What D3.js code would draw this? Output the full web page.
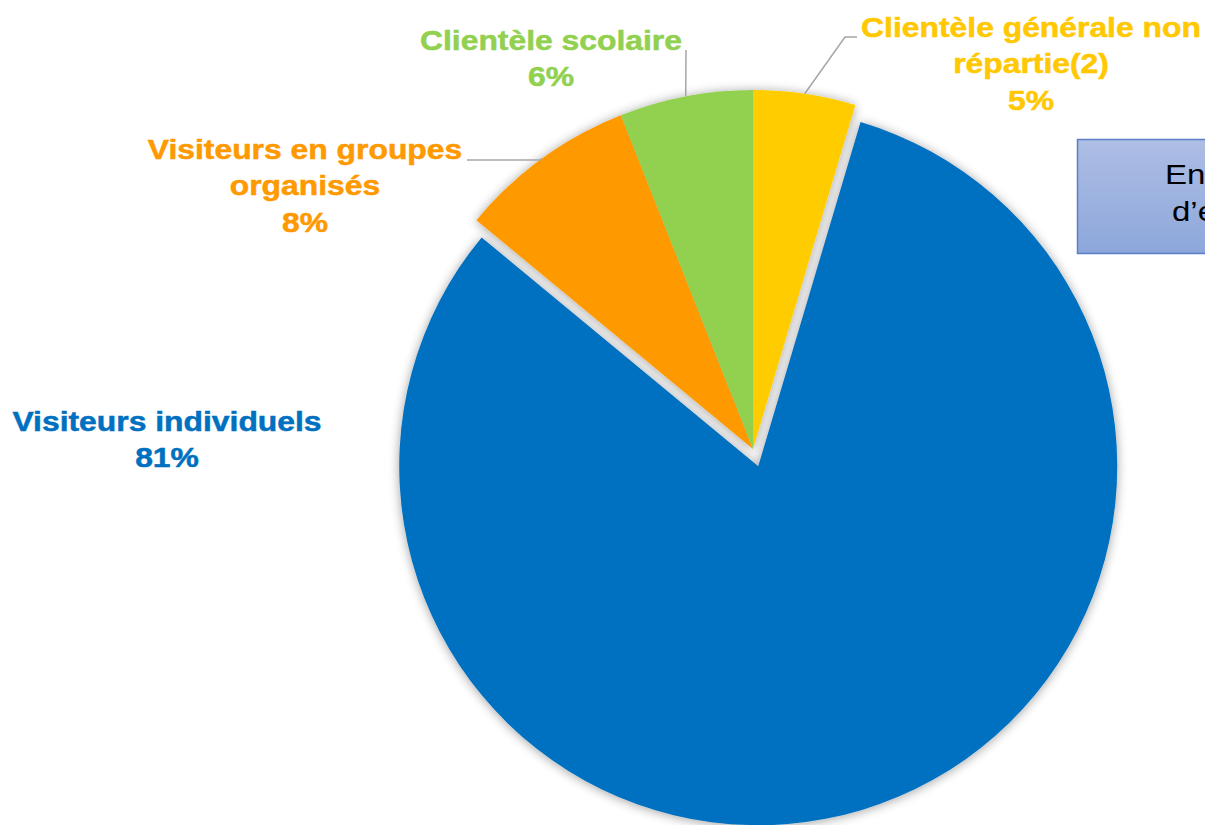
<!DOCTYPE html>
<html>
<head>
<meta charset="utf-8">
<script src="https://cdn.jsdelivr.net/npm/d3@7"></script>
<style>
  html, body { margin: 0; padding: 0; background: #ffffff; overflow: hidden; }
  svg { display: block; }
</style>
</head>
<body>
<svg id="chart" width="1205" height="825"></svg>
<script>
// ---- Data ----
const categories = [
  "Clientèle générale non répartie(2)",
  "Visiteurs individuels",
  "Visiteurs en groupes organisés",
  "Clientèle scolaire"
];
const shares = [4.6, 81.4, 8.0, 6.0];
const labelLines = [
  ["Clientèle générale non", "répartie(2)"],
  ["Visiteurs individuels"],
  ["Visiteurs en groupes", "organisés"],
  ["Clientèle scolaire"]
];
const explodedFlags = [false, true, false, false];
const boxLines = ["Ensemble", "d’établissements"];

// ---- Styles / layout ----
const sliceColors = ["#FFCC00", "#0070C0", "#FF9900", "#92D050"];
const textColors  = ["#FFC800", "#0070C0", "#FF9900", "#92D050"];
const cx = 753, cy = 449, R = 359, explode = 18;
const fontSize = 27, stretch = 1.18, lineGap = 36.5;
const labelLayout = [
  { x: 1031, y: 37,  elbow: [[845, 37], [857, 37]] },
  { x: 167,  y: 431, elbow: null },
  { x: 305,  y: 159, elbow: [[540, 160], [467, 160]] },
  { x: 551,  y: 50,  elbow: [[686, 50]] }
];

const svg = d3.select("#chart");
const defs = svg.append("defs");

const f = defs.append("filter").attr("id", "shadow")
  .attr("x", "-10%").attr("y", "-10%").attr("width", "120%").attr("height", "120%");
f.append("feGaussianBlur").attr("in", "SourceAlpha").attr("stdDeviation", 5.5).attr("result", "b");
f.append("feOffset").attr("in", "b").attr("dx", 0).attr("dy", 1).attr("result", "o");
f.append("feComponentTransfer").attr("in", "o").attr("result", "s")
  .append("feFuncA").attr("type", "linear").attr("slope", 0.38);
const m = f.append("feMerge");
m.append("feMergeNode").attr("in", "s");
m.append("feMergeNode").attr("in", "SourceGraphic");

const grad = defs.append("linearGradient").attr("id", "boxGrad")
  .attr("x1", 0).attr("y1", 0).attr("x2", 0).attr("y2", 1);
grad.append("stop").attr("offset", "0%").attr("stop-color", "#AEBEE4");
grad.append("stop").attr("offset", "100%").attr("stop-color", "#8DA7DB");

// ---- Pie ----
const data = categories.map((c, i) => ({ cat: c, value: shares[i], i }));
const pie = d3.pie().value(d => d.value).sort(null).startAngle(0).endAngle(2 * Math.PI);
const arcs = pie(data);
const arc = d3.arc().innerRadius(0).outerRadius(R);

const root = svg.append("g").attr("transform", `translate(${cx},${cy})`);

const offset = a => {
  const mid = (a.startAngle + a.endAngle) / 2;
  return explodedFlags[a.data.i] ? [explode * Math.sin(mid), -explode * Math.cos(mid)] : [0, 0];
};

root.append("g").attr("filter", "url(#shadow)")
  .selectAll("path").data(arcs.filter(a => explodedFlags[a.data.i])).join("path")
  .attr("transform", a => `translate(${offset(a)})`)
  .attr("d", arc).attr("fill", a => sliceColors[a.data.i]);

root.append("g").attr("filter", "url(#shadow)")
  .selectAll("path").data(arcs.filter(a => !explodedFlags[a.data.i])).join("path")
  .attr("d", arc).attr("fill", a => sliceColors[a.data.i]);

// ---- Leader lines ----
arcs.forEach(a => {
  const L = labelLayout[a.data.i];
  if (!L.elbow) return;
  const mid = (a.startAngle + a.endAngle) / 2;
  const [ox, oy] = offset(a);
  const p0 = [cx + ox + R * Math.sin(mid), cy + oy - R * Math.cos(mid)];
  const pts = [p0].concat(L.elbow);
  svg.append("path")
    .attr("d", d3.line()(pts))
    .attr("fill", "none").attr("stroke", "#A6A6A6").attr("stroke-width", 1.5);
});

// ---- Labels ----
arcs.forEach(a => {
  const i = a.data.i;
  const L = labelLayout[i];
  const lines = labelLines[i].concat([Math.round(shares[i]) + "%"]);
  const g = svg.append("g").attr("transform", `translate(${L.x},${L.y}) scale(${stretch},1)`);
  g.selectAll("text").data(lines).join("text")
    .attr("x", 0).attr("y", (d, k) => k * lineGap)
    .attr("text-anchor", "middle")
    .attr("font-family", "'Liberation Sans', Arial, sans-serif")
    .attr("font-weight", "bold")
    .attr("font-size", fontSize)
    .attr("fill", textColors[i])
    .attr("stroke", textColors[i])
    .attr("stroke-width", 0.5)
    .text(d => d);
});

// ---- Text box (partially off-canvas, as in the reference) ----
svg.append("rect")
  .attr("x", 1077.5).attr("y", 139.5).attr("width", 300).attr("height", 114)
  .attr("fill", "url(#boxGrad)").attr("stroke", "#5A7FC8").attr("stroke-width", 1.5);
const tb = svg.append("g");
[[1165, 184], [1172, 221]].forEach((p, k) => {
  tb.append("text")
    .attr("transform", `translate(${p[0]},${p[1]}) scale(${stretch},1)`)
    .attr("font-family", "'Liberation Sans', Arial, sans-serif")
    .attr("font-size", 28)
    .attr("fill", "#000000")
    .text(boxLines[k]);
});
</script>
</body>
</html>
